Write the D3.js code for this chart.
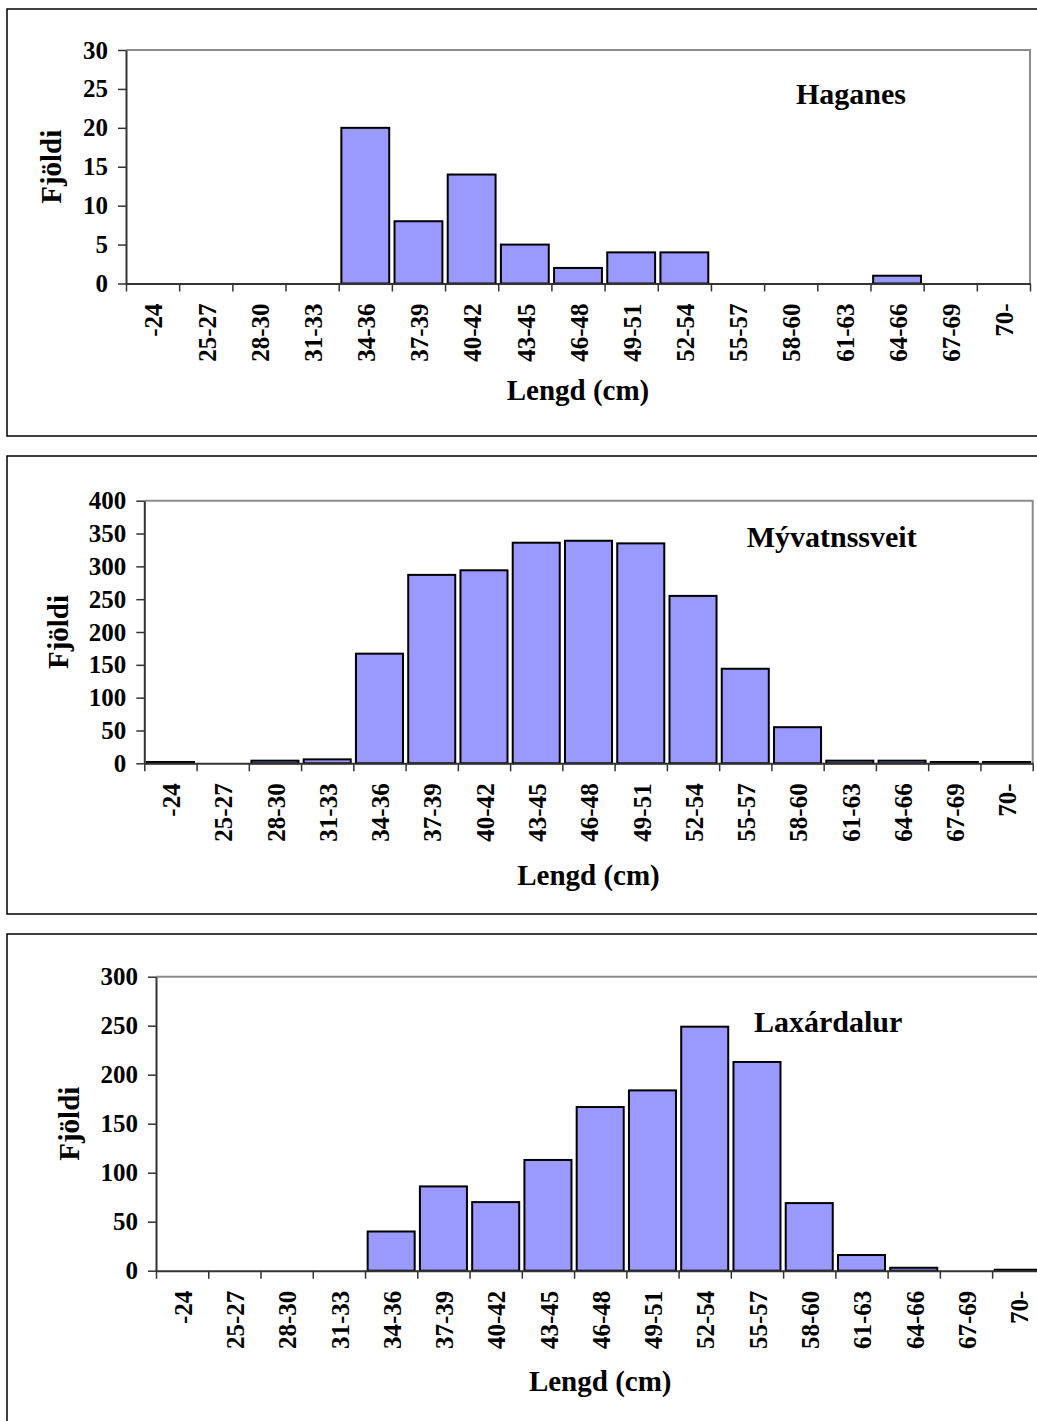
<!DOCTYPE html>
<html>
<head>
<meta charset="utf-8">
<script src="https://cdn.jsdelivr.net/npm/d3@7"></script>
<style>
  html, body { margin: 0; padding: 0; background: #fff; }
  svg { display: block; }
  text { font-family: "Liberation Serif", "Times New Roman", serif; font-weight: bold; fill: #000; }
</style>
</head>
<body>
<svg id="chart" width="1037" height="1421"></svg>
<script>
// ---- data ----
const categories = ["-24","25-27","28-30","31-33","34-36","37-39","40-42","43-45","46-48","49-51","52-54","55-57","58-60","61-63","64-66","67-69","70-"];
const haganesValues      = [0,0,0,0,20,8,14,5,2,4,4,0,0,0,1,0,0];
const myvatnssveitValues = [2,0,4,6,167,287,294,336,339,335,255,144,55,4,4,2,2];
const laxardalurValues   = [0,0,0,0,40,86,70,113,167,184,249,213,69,16,3,0,1];
const haganesTicks      = [0,5,10,15,20,25,30];
const myvatnssveitTicks = [0,50,100,150,200,250,300,350,400];
const laxardalurTicks   = [0,50,100,150,200,250,300];
const panelTitles = ["Haganes","Mývatnssveit","Laxárdalur"];
const yAxisTitle = "Fjöldi";
const xAxisTitle = "Lengd (cm)";

// ---- layout ----
const panels = [
  { values: haganesValues, ticks: haganesTicks, title: panelTitles[0],
    box: {top: 9, bottom: 436}, plot: {left: 126, top: 50, right: 1030, bottom: 283.5},
    titleX: 796, titleY: 104, yTitleX: 51, xTitleY: 400 },
  { values: myvatnssveitValues, ticks: myvatnssveitTicks, title: panelTitles[1],
    box: {top: 456, bottom: 914}, plot: {left: 144.3, top: 500.7, right: 1032.7, bottom: 763.3},
    titleX: 746.7, titleY: 547.3, yTitleX: 57.5, xTitleY: 885 },
  { values: laxardalurValues, ticks: laxardalurTicks, title: panelTitles[2],
    box: {top: 934, bottom: 1440}, plot: {left: 156, top: 976.7, right: 1044.4, bottom: 1270.7},
    titleX: 754, titleY: 1031.7, yTitleX: 68.5, xTitleY: 1391 }
];

const svg = d3.select("#chart");

panels.forEach(p => {
  const g = svg.append("g");
  const P = p.plot;

  // outer frame
  g.append("rect")
    .attr("x", 7).attr("y", p.box.top)
    .attr("width", 1045 - 7).attr("height", p.box.bottom - p.box.top)
    .attr("fill", "none").attr("stroke", "#000").attr("stroke-width", 1.5);

  const x = d3.scaleBand().domain(categories).range([P.left, P.right])
    .paddingInner(0.1).paddingOuter(0.05);
  const xIdx = d3.scaleLinear().domain([0, categories.length]).range([P.left, P.right]);
  const yMax = p.ticks[p.ticks.length - 1];
  const y = d3.scaleLinear().domain([0, yMax]).range([P.bottom, P.top]);

  // plot area border (gray top & right)
  g.append("path")
    .attr("d", `M${P.left},${P.top}H${P.right}V${P.bottom}`)
    .attr("fill", "none").attr("stroke", "#8c8c8c").attr("stroke-width", 2);

  // bars
  const data = categories.map((c, i) => ({c, v: p.values[i]})).filter(d => d.v > 0);
  g.selectAll("rect.bar").data(data).join("rect")
    .attr("class", "bar")
    .attr("x", d => x(d.c))
    .attr("width", x.bandwidth())
    .attr("y", d => y(d.v))
    .attr("height", d => y(0) - y(d.v))
    .attr("fill", "#9999ff")
    .attr("stroke", "#000")
    .attr("stroke-width", 2);

  // y axis
  const ya = g.append("g").attr("transform", `translate(${P.left},0)`)
    .call(d3.axisLeft(y).tickValues(p.ticks).tickSize(8).tickPadding(10).tickSizeOuter(0));
  ya.select(".domain").attr("stroke", "#333").attr("stroke-width", 2);
  ya.selectAll(".tick line").attr("stroke", "#333").attr("stroke-width", 1.5);
  ya.selectAll(".tick text").style("font-size", "25px")
    .style("font-family", "'Liberation Serif','Times New Roman',serif").style("font-weight", "bold")
    .attr("fill", "#000");

  // x axis (ticks at category boundaries)
  const xa = g.append("g").attr("transform", `translate(0,${P.bottom})`)
    .call(d3.axisBottom(xIdx).tickValues(d3.range(categories.length + 1)).tickFormat("").tickSize(8).tickSizeOuter(0));
  xa.select(".domain").attr("stroke", "#333").attr("stroke-width", 2);
  xa.selectAll(".tick line").attr("stroke", "#333").attr("stroke-width", 1.5);

  // x tick labels (rotated)
  g.selectAll("text.xl").data(categories).join("text")
    .attr("class", "xl")
    .attr("transform", d => `translate(${x(d) + x.bandwidth() / 2 + 1},${P.bottom + 20}) rotate(-90)`)
    .attr("text-anchor", "end")
    .attr("dy", "0.35em")
    .style("font-size", "25px")
    .text(d => d);

  // axis titles
  g.append("text")
    .attr("transform", `translate(${p.yTitleX},${(P.top + P.bottom) / 2}) rotate(-90)`)
    .attr("text-anchor", "middle").attr("dy", "0.35em")
    .style("font-size", "29px")
    .text(yAxisTitle);
  g.append("text")
    .attr("x", (P.left + P.right) / 2).attr("y", p.xTitleY)
    .attr("text-anchor", "middle")
    .style("font-size", "29px")
    .text(xAxisTitle);

  // panel title
  g.append("text")
    .attr("x", p.titleX).attr("y", p.titleY)
    .style("font-size", "30px")
    .text(p.title);
});
</script>
</body>
</html>
